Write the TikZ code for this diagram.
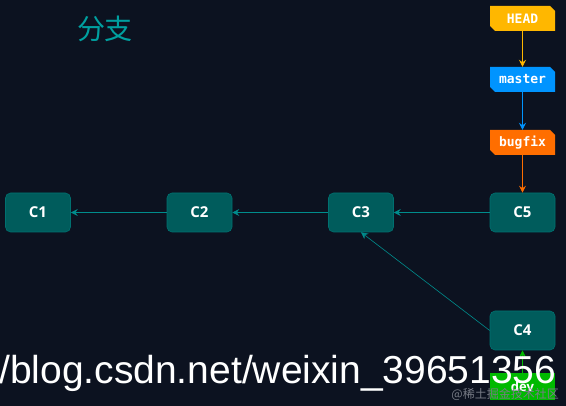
\documentclass[tikz,border=0pt]{standalone}
\usepackage{fontspec}
\usetikzlibrary{arrows.meta,shapes.misc}
\newfontfamily\cjk{Noto Sans CJK SC}
\newfontfamily\monofnt{DejaVu Sans Mono}
\newfontfamily\commitfnt{Open Sans}
\newfontfamily\wmfnt{Liberation Sans}
\definecolor{bgc}{RGB}{12,18,32}
\definecolor{titlec}{RGB}{0,160,160}
\definecolor{commitfill}{RGB}{0,92,92}
\definecolor{commitdraw}{RGB}{0,112,112}
\definecolor{linkc}{RGB}{0,140,140}
\definecolor{headc}{RGB}{255,183,0}
\definecolor{masterc}{RGB}{0,148,255}
\definecolor{bugfixc}{RGB}{255,110,0}
\definecolor{devc}{RGB}{0,185,0}
\definecolor{wmgray}{RGB}{120,124,134}
\tikzset{
  commit/.style={rectangle, rounded corners=5pt, fill=commitfill, draw=commitdraw, line width=0.6pt,
    minimum width=65pt, minimum height=39pt, inner sep=0pt, text=white,
    font=\commitfnt\bfseries\fontsize{15}{15}\selectfont},
  tagbox/.style={chamfered rectangle, chamfered rectangle corners={north east,south west},
    chamfered rectangle xsep=2.5pt, chamfered rectangle ysep=2.5pt,
    fill=#1, draw=none, minimum width=65pt, minimum height=25pt, inner sep=0pt, text=white,
    font=\monofnt\bfseries\fontsize{13}{13}\selectfont},
  link/.style={draw=linkc, line width=0.6pt, -{Stealth[length=7pt,width=7pt,inset=2.5pt]}},
  reflink/.style={draw=#1, line width=0.8pt, -{Stealth[length=7pt,width=7pt,inset=2.5pt]}},
}
\begin{document}
\begin{tikzpicture}[x=1pt,y=-1pt]
\fill[bgc] (0,0) rectangle (566,406);
\useasboundingbox (0,0) rectangle (566,406);
\node[text=titlec, font=\cjk\fontsize{28}{28}\selectfont] (title) at (105,29) {分支};
\node[tagbox=headc] (head) at (522.5,18.5) {HEAD};
\node[tagbox=masterc] (master) at (522.5,79.5) {master};
\node[tagbox=bugfixc] (bugfix) at (522.5,142.5) {bugfix};
\node[commit] (c1) at (38,212.5) {C1};
\node[commit] (c2) at (199.5,212.5) {C2};
\node[commit] (c3) at (361,212.5) {C3};
\node[commit] (c5) at (522.5,212.5) {C5};
\node[commit] (c4) at (522.5,330.5) {C4};
\node[rectangle, fill=devc, minimum width=65pt, minimum height=27pt, inner sep=0pt, text=white,
  font=\commitfnt\bfseries\fontsize{13}{13}\selectfont] (dev) at (522.5,386.5) {dev};
\draw[link] (c2) -- (c1);
\draw[link] (c3) -- (c2);
\draw[link] (c5) -- (c3);
\draw[link] (c4.west) -- (c3.south);
\draw[reflink=headc] (head) -- (master);
\draw[reflink=masterc] (master) -- (bugfix);
\draw[reflink=bugfixc] (bugfix) -- (c5);
\draw[reflink=devc] (dev) -- (c4);
\node[anchor=base west, inner sep=0pt, text=white, font=\wmfnt\fontsize{39}{39}\selectfont] (wm) at (-1,384) {/blog.csdn.net/weixin\_39651356};
\node[anchor=east, inner sep=0pt, text=wmgray, font=\cjk\fontsize{12}{12}\selectfont] (wm2) at (559,394) {@稀土掘金技术社区};
\end{tikzpicture}
\end{document}
